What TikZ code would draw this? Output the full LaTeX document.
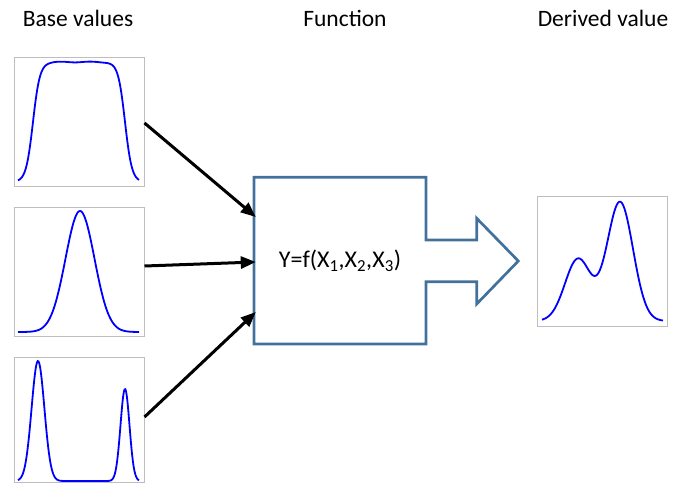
\documentclass[tikz,border=0pt]{standalone}
\usepackage{fontspec}
\setmainfont{Carlito}
\usetikzlibrary{arrows.meta,positioning,calc}
\definecolor{outlineblue}{RGB}{65,113,156}
\definecolor{framegray}{RGB}{190,190,190}
\definecolor{curveblue}{RGB}{0,0,255}

\begin{document}
\begin{tikzpicture}[
  x=1pt,y=-1pt,
  heading/.style={anchor=base,font=\fontsize{23.5}{28}\selectfont},
  chart/.style={draw=framegray,line width=1pt,minimum width=130pt,
    minimum height=129pt,inner sep=0pt},
  curve/.style={curveblue,line width=1.8pt,smooth},
  arr/.style={-{Triangle[length=15pt,width=12pt]},line width=3pt,black}
]
\useasboundingbox (0,0) rectangle (686,483);
% headings
\node[heading] (hbase) at (78,26.7) {Base values};
\node[heading] (hfunc) at (345,26.7) {Function};
\node[heading] (hderived) at (603,26.7) {Derived value};
% base value charts
\node[chart] (basetop) at (79,121.5) {};
\node[chart] (basemid) at (79,271.5) {};
\node[chart,minimum height=125pt] (basebot) at (79,419.5) {};
\draw[curve] plot[domain=18:139,samples=140]
  (\x,{182-(120-0.4*cos((\x-45)*12))/((1+exp(-(\x-33)/3.5))*(1+exp((\x-125)/3.5)))});
\draw[curve] plot[domain=18:139,samples=120]
  (\x,{332-121*exp(-((\x-80)*(\x-80))/420.5)});
\draw[curve] plot[domain=18:139,samples=160]
  (\x,{481-120*exp(-((\x-38)*(\x-38))/82)-92*exp(-((\x-125)*(\x-125))/40.5)});
% function block
\node[font=\fontsize{24}{28}\selectfont,minimum width=172pt,minimum height=167pt,
  inner sep=0pt] (func) at (340,260.5)
  {Y=f(X\textsubscript{1},X\textsubscript{2},X\textsubscript{3})};
\draw[outlineblue,line width=2.7pt,line join=miter]
  (426,240) -- (426,177.3) -- (254,177.3) -- (254,344) -- (426,344)
  -- (426,281.7) -- (476.7,281.7) -- (476.7,304) -- (518.3,261)
  -- (476.7,218.3) -- (476.7,240) -- cycle;
% derived value chart
\node[chart,minimum height=130pt] (derived) at (602,261) {};
\draw[curve] plot[domain=542:663,samples=140]
  (\x,{321-62*exp(-((\x-578)*(\x-578))/338)-119*exp(-((\x-620)*(\x-620))/338)});
% inputs
\draw[arr] ([yshift=-1.5pt]basetop.east) -- ([xshift=2pt,yshift=43.5pt]func.west);
\draw[arr] ([yshift=5.5pt]basemid.east) -- ([xshift=2pt,yshift=-1.5pt]func.west);
\draw[arr] ([yshift=2.5pt]basebot.east) -- ([xshift=2pt,yshift=-51.5pt]func.west);
\end{tikzpicture}
\end{document}
